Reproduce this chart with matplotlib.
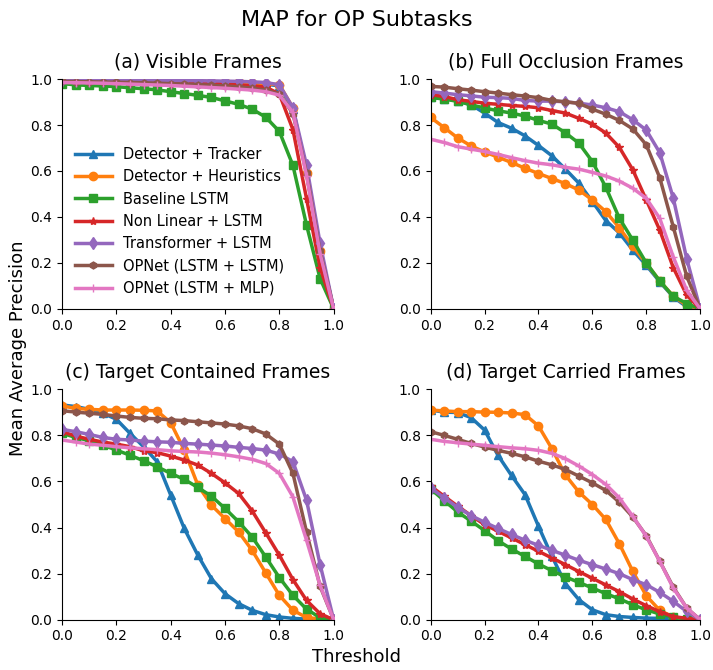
import numpy as np
import matplotlib
matplotlib.use("Agg")
import matplotlib.pyplot as plt

#%% data
thresholds = np.linspace(0, 1, 21)

names = ["Detector + Tracker", "Detector + Heuristics", "Baseline LSTM",
         "Non Linear + LSTM", "Transformer + LSTM", "OPNet (LSTM + LSTM)",
         "OPNet (LSTM + MLP)"]
colors = ["#1f77b4", "#ff7f0e", "#2ca02c", "#d62728", "#9467bd", "#8c564b", "#e377c2"]
markers = ["^", "o", "s", "*", "d", "h", "+"]

titles = ["(a) Visible Frames", "(b) Full Occlusion Frames",
          "(c) Target Contained Frames", "(d) Target Carried Frames"]

# (a) visible
vis_tracker = [0.995, 0.995, 0.995, 0.994, 0.994, 0.993, 0.993, 0.992, 0.991, 0.99, 0.989,
               0.988, 0.987, 0.985, 0.982, 0.978, 0.97, 0.87, 0.60, 0.26, 0.0]
vis_heur = [0.996, 0.996, 0.995, 0.995, 0.994, 0.994, 0.993, 0.993, 0.992, 0.991, 0.99,
            0.989, 0.988, 0.986, 0.984, 0.98, 0.975, 0.875, 0.59, 0.25, 0.0]
vis_base = [0.98, 0.975, 0.972, 0.97, 0.967, 0.962, 0.958, 0.953, 0.945, 0.937, 0.929,
            0.92, 0.905, 0.89, 0.869, 0.834, 0.772, 0.624, 0.365, 0.132, 0.0]
vis_nonlin = [0.995, 0.995, 0.994, 0.993, 0.992, 0.991, 0.99, 0.989, 0.988, 0.986, 0.984,
              0.982, 0.979, 0.975, 0.97, 0.965, 0.935, 0.78, 0.48, 0.18, 0.0]
vis_trans = [0.997, 0.997, 0.996, 0.996, 0.995, 0.995, 0.995, 0.994, 0.994, 0.993, 0.993,
             0.992, 0.991, 0.99, 0.988, 0.985, 0.975, 0.875, 0.625, 0.285, 0.0]
vis_opl = [0.99, 0.989, 0.988, 0.987, 0.986, 0.985, 0.984, 0.982, 0.98, 0.978, 0.976,
           0.973, 0.97, 0.966, 0.96, 0.952, 0.935, 0.85, 0.59, 0.25, 0.0]
vis_opm = [0.985, 0.984, 0.983, 0.982, 0.98, 0.978, 0.976, 0.974, 0.972, 0.969, 0.966,
           0.963, 0.96, 0.956, 0.952, 0.945, 0.93, 0.855, 0.58, 0.24, 0.0]

# (b) full occlusion
occ_tracker = [0.92, 0.915, 0.905, 0.888, 0.852, 0.811, 0.786, 0.753, 0.711, 0.666, 0.608,
               0.547, 0.467, 0.384, 0.331, 0.256, 0.19, 0.118, 0.052, 0.009, 0.0]
occ_heur = [0.833, 0.789, 0.744, 0.709, 0.683, 0.66, 0.637, 0.612, 0.589, 0.567, 0.545,
            0.517, 0.474, 0.423, 0.353, 0.273, 0.198, 0.122, 0.055, 0.016, 0.0]
occ_base = [0.92, 0.913, 0.903, 0.888, 0.874, 0.862, 0.852, 0.839, 0.82, 0.804, 0.766,
            0.721, 0.641, 0.529, 0.395, 0.299, 0.2, 0.121, 0.055, 0.023, 0.0]
occ_nonlin = [0.932, 0.924, 0.91, 0.903, 0.895, 0.89, 0.885, 0.881, 0.875, 0.863, 0.852,
              0.829, 0.804, 0.765, 0.703, 0.605, 0.474, 0.343, 0.18, 0.06, 0.0]
occ_trans = [0.945, 0.939, 0.932, 0.927, 0.921, 0.919, 0.916, 0.907, 0.904, 0.904, 0.901,
             0.895, 0.887, 0.875, 0.858, 0.823, 0.778, 0.68, 0.483, 0.218, 0.0]
occ_opl = [0.968, 0.965, 0.958, 0.952, 0.945, 0.939, 0.932, 0.926, 0.919, 0.907, 0.901,
           0.894, 0.869, 0.847, 0.82, 0.783, 0.714, 0.571, 0.358, 0.142, 0.0]
occ_opm = [0.738, 0.724, 0.706, 0.695, 0.685, 0.672, 0.658, 0.645, 0.634, 0.627, 0.616,
           0.608, 0.594, 0.578, 0.556, 0.525, 0.481, 0.394, 0.227, 0.081, 0.0]

# (c) target contained
con_tracker = [0.932, 0.925, 0.913, 0.896, 0.87, 0.809, 0.751, 0.686, 0.541, 0.396, 0.28,
               0.178, 0.113, 0.07, 0.041, 0.022, 0.012, 0.006, 0.003, 0.001, 0.0]
con_heur = [0.928, 0.917, 0.913, 0.91, 0.91, 0.91, 0.909, 0.906, 0.855, 0.736, 0.584,
            0.497, 0.439, 0.381, 0.301, 0.203, 0.106, 0.041, 0.01, 0.003, 0.0]
con_base = [0.809, 0.791, 0.777, 0.758, 0.736, 0.714, 0.69, 0.664, 0.635, 0.609, 0.574,
            0.536, 0.483, 0.425, 0.359, 0.272, 0.183, 0.106, 0.046, 0.009, 0.0]
con_nonlin = [0.816, 0.797, 0.783, 0.771, 0.762, 0.751, 0.733, 0.725, 0.71, 0.693, 0.671,
              0.635, 0.594, 0.548, 0.472, 0.377, 0.28, 0.174, 0.084, 0.026, 0.0]
con_trans = [0.826, 0.816, 0.804, 0.791, 0.783, 0.78, 0.775, 0.772, 0.77, 0.765, 0.762,
             0.758, 0.754, 0.748, 0.743, 0.736, 0.719, 0.686, 0.519, 0.239, 0.0]
con_opl = [0.907, 0.901, 0.896, 0.891, 0.884, 0.878, 0.874, 0.872, 0.867, 0.864, 0.859,
           0.854, 0.849, 0.841, 0.829, 0.806, 0.762, 0.635, 0.381, 0.145, 0.0]
con_opm = [0.78, 0.771, 0.762, 0.757, 0.751, 0.746, 0.742, 0.738, 0.733, 0.73, 0.728,
           0.723, 0.716, 0.707, 0.696, 0.678, 0.635, 0.533, 0.345, 0.149, 0.0]

# (d) target carried
car_tracker = [0.91, 0.901, 0.899, 0.877, 0.823, 0.713, 0.626, 0.543, 0.406, 0.275, 0.157,
               0.087, 0.043, 0.022, 0.014, 0.01, 0.007, 0.006, 0.004, 0.003, 0.0]
car_heur = [0.91, 0.906, 0.903, 0.903, 0.901, 0.9, 0.897, 0.89, 0.841, 0.742, 0.628,
            0.554, 0.5, 0.435, 0.33, 0.21, 0.104, 0.041, 0.012, 0.003, 0.0]
car_base = [0.568, 0.517, 0.468, 0.428, 0.387, 0.343, 0.307, 0.275, 0.242, 0.213, 0.186,
            0.162, 0.138, 0.113, 0.091, 0.065, 0.043, 0.025, 0.012, 0.003, 0.0]
car_nonlin = [0.58, 0.536, 0.493, 0.452, 0.413, 0.384, 0.355, 0.326, 0.297, 0.268, 0.239,
              0.209, 0.18, 0.151, 0.122, 0.09, 0.061, 0.035, 0.014, 0.006, 0.0]
car_trans = [0.572, 0.529, 0.488, 0.452, 0.423, 0.396, 0.37, 0.345, 0.323, 0.301, 0.28,
             0.258, 0.239, 0.22, 0.2, 0.174, 0.152, 0.119, 0.08, 0.036, 0.0]
car_opl = [0.816, 0.8, 0.783, 0.765, 0.749, 0.735, 0.722, 0.707, 0.688, 0.672, 0.652,
           0.623, 0.594, 0.561, 0.51, 0.446, 0.365, 0.254, 0.142, 0.051, 0.0]
car_opm = [0.783, 0.774, 0.768, 0.762, 0.757, 0.751, 0.746, 0.742, 0.735, 0.722, 0.699,
           0.667, 0.63, 0.587, 0.529, 0.449, 0.362, 0.254, 0.138, 0.051, 0.0]

panels = [
    [vis_tracker, vis_heur, vis_base, vis_nonlin, vis_trans, vis_opl, vis_opm],
    [occ_tracker, occ_heur, occ_base, occ_nonlin, occ_trans, occ_opl, occ_opm],
    [con_tracker, con_heur, con_base, con_nonlin, con_trans, con_opl, con_opm],
    [car_tracker, car_heur, car_base, car_nonlin, car_trans, car_opl, car_opm],
]

#%% plot
fig = plt.figure(figsize=(7.13, 6.70), dpi=100)
positions = [
    [0.087, 0.539, 0.381, 0.343],
    [0.604, 0.539, 0.378, 0.343],
    [0.087, 0.075, 0.381, 0.344],
    [0.604, 0.075, 0.378, 0.344],
]
msizes = [6, 6, 6, 6, 6, 5, 6]

for k in range(4):
    ax = fig.add_axes(positions[k])
    for i in range(7):
        ax.plot(thresholds, panels[k][i], color=colors[i], marker=markers[i],
                markersize=msizes[i], linewidth=2.5, label=names[i])
    ax.set_xlim(0, 1)
    ax.set_ylim(0, 1)
    ax.set_xticks(np.arange(0, 1.01, 0.2))
    ax.set_yticks(np.arange(0, 1.01, 0.2))
    ax.tick_params(labelsize=10)
    ax.spines["top"].set_visible(False)
    ax.spines["right"].set_visible(False)
    ax.set_title(titles[k], fontsize=13.5, pad=8)
    if k == 0:
        ax.legend(loc="lower left", bbox_to_anchor=(0.0, 0.0), frameon=False,
                  fontsize=10.5, handlelength=2.5)

fig.suptitle("MAP for OP Subtasks", fontsize=16, y=0.985)
fig.text(0.5, 0.012, "Threshold", ha="center", fontsize=13)
fig.text(0.012, 0.48, "Mean Average Precision", va="center", rotation=90, fontsize=13)

fig.savefig("out.png", dpi=100)
